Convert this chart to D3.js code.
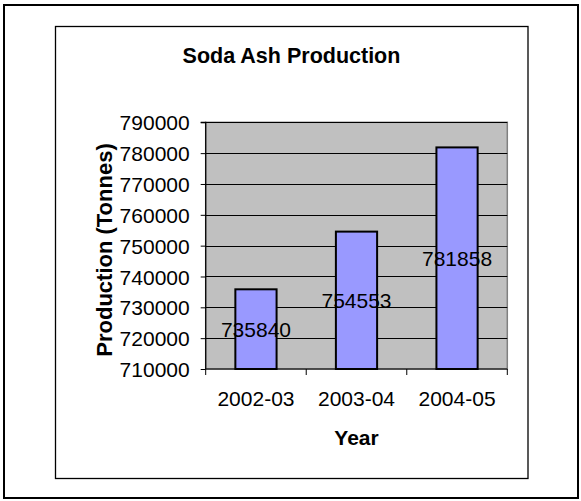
<!DOCTYPE html>
<html>
<head>
<meta charset="utf-8">
<script src="https://cdn.jsdelivr.net/npm/d3@7"></script>
<style>
  html, body { margin: 0; padding: 0; background: #ffffff; }
  svg { display: block; }
  text { font-family: "Liberation Sans", Arial, sans-serif; fill: #000; }
</style>
</head>
<body>
<svg id="chart" width="581" height="501"></svg>
<script>
const categories = ["2002-03", "2003-04", "2004-05"];
const production = [735840, 754553, 781858];
const yTicks = [710000, 720000, 730000, 740000, 750000, 760000, 770000, 780000, 790000];
const chartTitle = "Soda Ash Production";
const xTitle = "Year";
const yTitle = "Production (Tonnes)";

const svg = d3.select("#chart");

// outer frame
svg.append("rect").attr("x", 4).attr("y", 5).attr("width", 574).attr("height", 493)
  .attr("fill", "#fff").attr("stroke", "#000").attr("stroke-width", 2);
// inner chart area frame
svg.append("rect").attr("x", 55.5).attr("y", 26.5).attr("width", 472.5).attr("height", 452)
  .attr("fill", "#fff").attr("stroke", "#000").attr("stroke-width", 1.3);

const plot = { left: 205.7, right: 507.3, top: 122.3, bottom: 369 };

const x = d3.scaleBand().domain(categories).range([plot.left, plot.right])
  .paddingInner(0.59).paddingOuter(0.295);
const xCat = d3.scaleBand().domain(categories).range([plot.left, plot.right]).padding(0);
const y = d3.scaleLinear().domain([710000, 790000]).range([plot.bottom, plot.top]);

// plot background
svg.append("rect").attr("x", plot.left).attr("y", plot.top)
  .attr("width", plot.right - plot.left).attr("height", plot.bottom - plot.top)
  .attr("fill", "#c0c0c0").attr("stroke", "#808080").attr("stroke-width", 1.5);

// gridlines
svg.append("g").selectAll("line").data(yTicks.slice(1)).join("line")
  .attr("x1", plot.left).attr("x2", plot.right)
  .attr("y1", d => Math.round(y(d)) + 0.5).attr("y2", d => Math.round(y(d)) + 0.5)
  .attr("stroke", "#000").attr("stroke-width", 1);

// bars
svg.append("g").selectAll("rect").data(production).join("rect")
  .attr("x", (d, i) => x(categories[i]))
  .attr("y", d => y(d))
  .attr("width", x.bandwidth())
  .attr("height", d => y(710000) - y(d))
  .attr("fill", "#9999ff").attr("stroke", "#000").attr("stroke-width", 2);

// y axis
const yAxis = d3.axisLeft(y).tickValues(yTicks).tickSize(5).tickPadding(11)
  .tickFormat(d3.format("d"));
const yg = svg.append("g").attr("transform", `translate(${plot.left},0)`).call(yAxis);
yg.select(".domain").attr("stroke", "#000").attr("stroke-width", 1.2).attr("d", `M-5,${plot.top}H0V${plot.bottom}`);
yg.selectAll(".tick line").attr("stroke", "#000");
yg.selectAll(".tick text").style("font-size", "21px").attr("font-family", null)
  .attr("dy", "0.36em").attr("fill", "#000");

// x axis
const xAxis = d3.axisBottom(xCat).tickSize(0).tickPadding(22);
const xg = svg.append("g").attr("transform", `translate(0,${plot.bottom})`).call(xAxis);
xg.select(".domain").attr("stroke", "#000").attr("stroke-width", 1.2)
  .attr("d", `M${plot.left},0H${plot.right}`);
xg.selectAll(".tick text").style("font-size", "21px").attr("fill", "#000").attr("dy", "0.71em");
// category boundary ticks
const bounds = d3.range(categories.length + 1).map(i => plot.left + i * xCat.step());
xg.selectAll("line.bound").data(bounds).join("line").attr("class", "bound")
  .attr("x1", d => d).attr("x2", d => d).attr("y1", 0).attr("y2", 6)
  .attr("stroke", "#000").attr("stroke-width", 1);

// data labels
svg.append("g").selectAll("text").data(production).join("text")
  .attr("x", (d, i) => x(categories[i]) + x.bandwidth() / 2)
  .attr("y", d => (y(d) + y(710000)) / 2)
  .attr("dy", "0.36em")
  .attr("text-anchor", "middle")
  .style("font-size", "21px")
  .text(d => d);

// titles
svg.append("text").attr("x", 291.5).attr("y", 63).attr("text-anchor", "middle")
  .style("font-size", "21.5px").style("font-weight", "bold").text(chartTitle);
svg.append("text").attr("x", 356.5).attr("y", 445).attr("text-anchor", "middle")
  .style("font-size", "21px").style("font-weight", "bold").text(xTitle);
svg.append("text").attr("transform", `translate(111.5,250) rotate(-90)`).attr("text-anchor", "middle")
  .style("font-size", "22px").style("font-weight", "bold").text(yTitle);
</script>
</body>
</html>
